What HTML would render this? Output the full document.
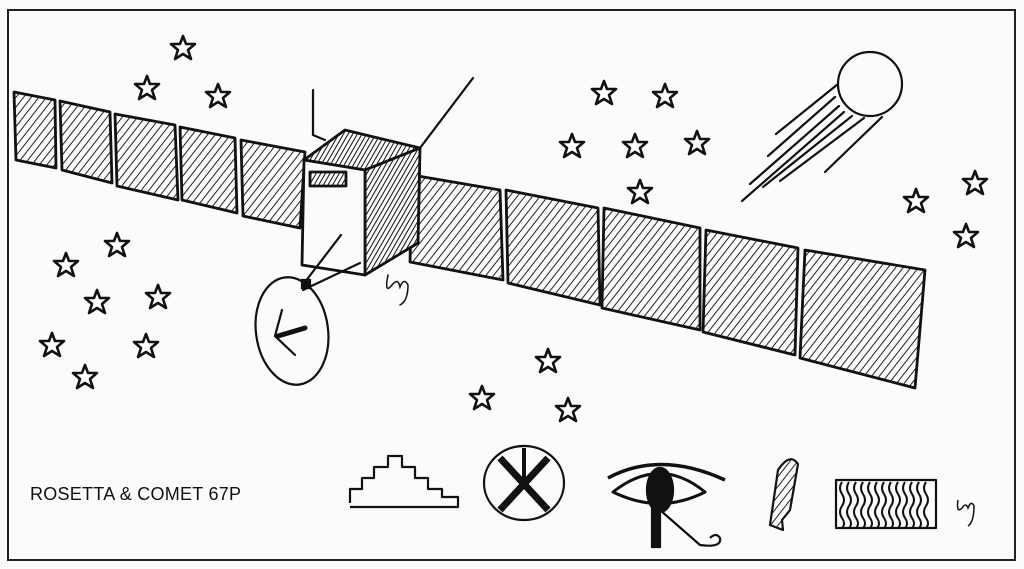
<!DOCTYPE html>
<html><head><meta charset="utf-8"><style>
html,body{margin:0;padding:0;background:#fbfbf9}
svg{display:block}
</style></head><body>
<svg width="1024" height="569" viewBox="0 0 1024 569" xmlns="http://www.w3.org/2000/svg">
<defs>
<pattern id="h" width="6" height="6" patternUnits="userSpaceOnUse" patternTransform="rotate(38)">
<rect width="6" height="6" fill="#fbfbf9"/><line x1="0" y1="0" x2="0" y2="6" stroke="#222" stroke-width="2"/></pattern>
<pattern id="hd" width="4" height="4" patternUnits="userSpaceOnUse" patternTransform="rotate(30)">
<rect width="4" height="4" fill="#fbfbf9"/><line x1="0" y1="0" x2="0" y2="4" stroke="#111" stroke-width="2"/></pattern>
<g id="s"><polygon points="0,-12 3,-4 12,-4 5,2 8,11 0,6 -8,11 -5,2 -12,-4 -3,-4" fill="#fff" stroke="#111" stroke-width="2.6" stroke-linejoin="round"/></g>
</defs>
<rect x="0" y="0" width="1024" height="569" fill="#fbfbf9"/>
<rect x="8" y="10" width="1007" height="550" fill="none" stroke="#222" stroke-width="2"/>
<g stroke="#111" stroke-width="2.8" fill="url(#h)" stroke-linejoin="round">
<polygon points="14,92 55,100 56,168 16,160"/>
<polygon points="60,101 110,112 112,183 62,170"/>
<polygon points="115,114 175,125 178,200 117,186"/>
<polygon points="180,127 235,138 237,213 182,200"/>
<polygon points="241,140 305,152 300,228 243,216"/>
<polygon points="412,175 500,190 503,280 410,262"/>
<polygon points="506,190 598,208 600,305 508,283"/>
<polygon points="604,208 700,228 700,330 602,308"/>
<polygon points="706,230 798,248 795,355 703,332"/>
<polygon points="805,250 925,270 915,388 800,358"/>
<polygon points="304,160 345,130 420,148 365,170" fill="url(#hd)"/>
<polygon points="365,170 420,148 418,243 365,275" fill="url(#hd)"/>
<polygon points="304,160 365,170 365,275 302,265" fill="#fbfbf9"/>
<rect x="310" y="172" width="36" height="14" fill="url(#hd)"/>
</g>
<g stroke="#111" stroke-width="2.2" fill="none" stroke-linecap="round">
<polyline points="313,90 313,135 325,140"/>
<line x1="420" y1="148" x2="473" y2="78"/>
<line x1="341" y1="235" x2="305" y2="282"/>
<line x1="360" y1="263" x2="303" y2="290"/>
<rect x="302" y="280" width="8" height="8" fill="#111"/>
<ellipse cx="292" cy="331" rx="36" ry="54" transform="rotate(-8 292 331)"/>
<polyline points="282,310 275,336 295,355"/>
<line x1="278" y1="336" x2="305" y2="328" stroke-width="5"/>
<circle cx="870" cy="84" r="32"/>
<line x1="838" y1="84" x2="776" y2="134"/>
<line x1="835" y1="97" x2="768" y2="156"/>
<line x1="839" y1="106" x2="750" y2="184"/>
<line x1="844" y1="112" x2="742" y2="201"/>
<line x1="852" y1="116" x2="763" y2="187"/>
<line x1="864" y1="118" x2="780" y2="181"/>
<line x1="882" y1="117" x2="825" y2="172"/>
<path d="M388 275 q-4 20 4 10 q6 -8 8 2 q4 -10 8 -2 q0 16 -8 20" stroke-width="1.5"/>
</g>
<g>
<use href="#s" x="183" y="48"/><use href="#s" x="147" y="88"/><use href="#s" x="218" y="96"/>
<use href="#s" x="117" y="245"/><use href="#s" x="66" y="265"/><use href="#s" x="97" y="302"/>
<use href="#s" x="158" y="297"/><use href="#s" x="52" y="345"/><use href="#s" x="146" y="346"/>
<use href="#s" x="85" y="377"/><use href="#s" x="604" y="93"/><use href="#s" x="665" y="96"/>
<use href="#s" x="572" y="146"/><use href="#s" x="635" y="146"/><use href="#s" x="697" y="143"/>
<use href="#s" x="640" y="192"/><use href="#s" x="916" y="201"/><use href="#s" x="975" y="183"/>
<use href="#s" x="966" y="236"/><use href="#s" x="548" y="361"/><use href="#s" x="482" y="398"/>
<use href="#s" x="568" y="410"/>
</g>
<text x="30" y="500" font-family="Liberation Sans, sans-serif" font-size="18" fill="#111" letter-spacing="1" textLength="212">ROSETTA &amp; COMET 67P</text>
<g stroke="#111" stroke-width="2.2" fill="none" stroke-linejoin="round">
<polyline points="350,503 350,489 362,489 362,478 374,478 374,467 388,467 388,456 402,456 402,467 415,467 415,478 428,478 428,489 442,489 442,497 458,497 458,507 350,507"/>
<ellipse cx="524" cy="483" rx="40" ry="37"/>
<line x1="500" y1="458" x2="548" y2="510" stroke-width="7"/>
<line x1="548" y1="458" x2="500" y2="510" stroke-width="7"/>
<line x1="524" y1="448" x2="524" y2="480" stroke-width="4"/>
<path d="M608 478 Q660 450 725 480" stroke-width="3.5"/>
<path d="M613 492 Q660 455 705 492 Q660 515 613 492 Z" stroke-width="3"/>
<ellipse cx="660" cy="490" rx="13" ry="22" fill="#111"/>
<rect x="652" y="505" width="8" height="42" fill="#111"/>
<path d="M660 510 L700 545 Q722 548 720 538 Q716 532 710 538"/>
<path d="M770 525 L778 470 Q790 452 798 464 L790 510 L782 520 L783 530 Z" fill="url(#h)"/>
<rect x="836" y="480" width="100" height="48" fill="#fbfbf9"/>
</g>
<g stroke="#111" stroke-width="2" fill="none">
<path d="M842 482 q-4 6 0 12 t0 12 t0 12 t0 10"/>
<path d="M849 482 q-4 6 0 12 t0 12 t0 12 t0 10"/>
<path d="M856 482 q-4 6 0 12 t0 12 t0 12 t0 10"/>
<path d="M863 482 q-4 6 0 12 t0 12 t0 12 t0 10"/>
<path d="M870 482 q-4 6 0 12 t0 12 t0 12 t0 10"/>
<path d="M877 482 q-4 6 0 12 t0 12 t0 12 t0 10"/>
<path d="M884 482 q-4 6 0 12 t0 12 t0 12 t0 10"/>
<path d="M891 482 q-4 6 0 12 t0 12 t0 12 t0 10"/>
<path d="M898 482 q-4 6 0 12 t0 12 t0 12 t0 10"/>
<path d="M905 482 q-4 6 0 12 t0 12 t0 12 t0 10"/>
<path d="M912 482 q-4 6 0 12 t0 12 t0 12 t0 10"/>
<path d="M919 482 q-4 6 0 12 t0 12 t0 12 t0 10"/>
<path d="M926 482 q-4 6 0 12 t0 12 t0 12 t0 10"/>
<path d="M958 500 q-2 14 4 8 q4 -6 6 0 q3 -8 6 -2 q0 16 -6 20" stroke-width="1.5"/>
</g>
</svg>
</body></html>
